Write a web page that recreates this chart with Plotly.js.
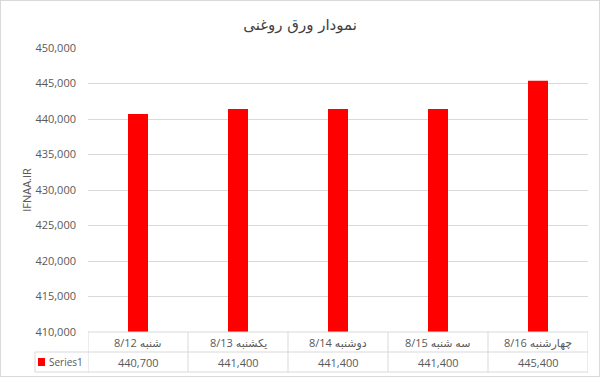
<!DOCTYPE html>
<html><head><meta charset="utf-8">
<script src="https://cdn.plot.ly/plotly-3.0.1.min.js"></script>
<style>
html,body{margin:0;padding:0;background:#fff;}
#wrap{position:relative;width:600px;height:377px;}
#chart{width:600px;height:377px;}
#frame{position:absolute;left:0;top:0;width:598px;height:375px;border:1px solid #d9d9d9;pointer-events:none;}
</style>
</head><body>
<div id="wrap"><div id="chart"></div><div id="frame"></div></div>
<script>
const chartTitle = 'نمودار ورق روغنی';
const yTitle = 'IFNAA.IR';
const seriesName = 'Series1';
const categories = ['شنبه 8/12', 'یکشنبه 8/13', 'دوشنبه 8/14', 'سه شنبه 8/15', 'چهارشنبه 8/16'];
const values = [440700, 441400, 441400, 441400, 445400];
const yTicks = [410000, 415000, 420000, 425000, 430000, 435000, 440000, 445000, 450000];

const fmt = v => v.toLocaleString('en-US');
const gray = '#d9d9d9';
const textCol = '#595959';
const font = 'Open Sans, DejaVu Sans, sans-serif';

// pixel helpers for table (plot area: x 88..588, y 48..332)
const L = 88, R = 588, T = 48, B = 332;
const px = x => (x - L) / (R - L);
const py = y => (B - y) / (B - T);

const shapes = [];
[[L, 332], [35, 352], [35, 372]].forEach(([x0, y]) => {
  shapes.push({type:'line', xref:'paper', yref:'paper', x0:px(x0), x1:1, y0:py(y), y1:py(y), line:{color:gray, width:1}});
});
for (let i = 0; i <= categories.length; i++) {
  shapes.push({type:'line', xref:'x', yref:'paper', x0:i-0.5, x1:i-0.5, y0:py(332), y1:py(372), line:{color:gray, width:1}});
}
shapes.push({type:'line', xref:'paper', yref:'paper', x0:px(35), x1:px(35), y0:py(352), y1:py(372), line:{color:gray, width:1}});
shapes.push({type:'rect', xref:'paper', yref:'paper', x0:px(38), x1:px(45), y0:py(366), y1:py(358), fillcolor:'#ff0000', line:{width:0}});

const annotations = [];
categories.forEach((c, i) => {
  annotations.push({x:i, xref:'x', y:py(342), yref:'paper', yanchor:'middle', xanchor:'center', text:c, showarrow:false, font:{family:font, size:11, color:textCol}});
  annotations.push({x:i, xref:'x', y:py(362), yref:'paper', yanchor:'middle', xanchor:'center', text:fmt(values[i]), showarrow:false, font:{family:font, size:11, color:textCol}});
});
annotations.push({x:px(47), xref:'paper', y:py(362), yref:'paper', yanchor:'middle', text:seriesName, xanchor:'left', showarrow:false, font:{family:font, size:10, color:textCol}});

const trace = {
  type:'bar', x:categories, y:values.map(v => v - yTicks[0]), base:yTicks[0],
  marker:{color:'#ff0000'}, name:seriesName, hoverinfo:'none'
};

const layout = {
  width:600, height:377,
  margin:{l:L, r:600-R, t:T, b:377-B},
  paper_bgcolor:'#fff', plot_bgcolor:'#fff',
  showlegend:false,
  bargap:0.8,
  title:{text:chartTitle, x:0.5, xanchor:'center', y:1-25/377, yanchor:'middle', font:{family:'DejaVu Sans, sans-serif', size:15, color:'#404040'}},
  xaxis:{type:'category', showticklabels:false, showgrid:false, zeroline:false, showline:false, ticks:'', range:[-0.5, categories.length-0.5], fixedrange:true},
  yaxis:{range:[yTicks[0], yTicks[yTicks.length-1]], tickvals:yTicks, ticktext:yTicks.map(fmt), showgrid:true, gridcolor:gray, gridwidth:1, zeroline:false, showline:false, ticks:'', ticklen:0, ticklabelstandoff:11, tickfont:{family:font, size:11, color:textCol}, title:{text:yTitle, standoff:1, font:{family:font, size:11, color:textCol}}, automargin:false, fixedrange:true},
  shapes:shapes, annotations:annotations
};

Plotly.newPlot('chart', [trace], layout, {staticPlot:true, displayModeBar:false});
</script>
</body></html>
